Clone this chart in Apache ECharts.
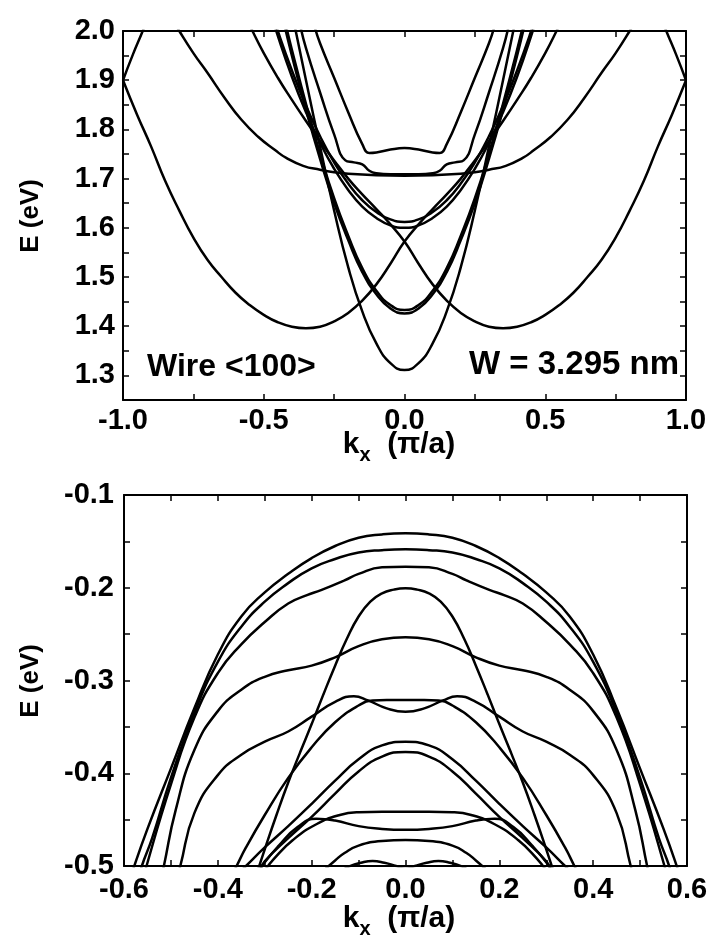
<!DOCTYPE html>
<html>
<head>
<meta charset="utf-8">
<script src="https://cdn.jsdelivr.net/npm/echarts@6/dist/echarts.min.js"></script>
<style>
  html, body { margin: 0; padding: 0; background: #fff; }
  #chart { width: 716px; height: 949px; }
</style>
</head>
<body>
<div id="chart"></div>
<script>
// ---- Tick labels ----
const cbKTicks = [-1.0, -0.5, 0.0, 0.5, 1.0];
const cbETicks = [1.3, 1.4, 1.5, 1.6, 1.7, 1.8, 1.9, 2.0];
const vbKTicks = [-0.6, -0.4, -0.2, 0.0, 0.2, 0.4, 0.6];
const vbETicks = [-0.5, -0.4, -0.3, -0.2, -0.1];

// ---- Conduction bands, <100> wire, W = 3.295 nm : [k (pi/a), E (eV)] ----
// Zone-centre bands, listed for k >= 0 (mirrored to k < 0)
const cGamma1  = [[0,1.311],[0.05,1.325],[0.1,1.365],[0.15,1.43],[0.2,1.52],[0.25,1.635],[0.3,1.765],[0.35,1.9],[0.39,2.01]];
const cGamma2a = [[0,1.426],[0.05,1.436],[0.1,1.465],[0.15,1.51],[0.2,1.575],[0.25,1.65],[0.3,1.74],[0.35,1.84],[0.4,1.95],[0.43,2.02]];
const cGamma2b = [[0,1.433],[0.05,1.443],[0.1,1.472],[0.15,1.518],[0.2,1.584],[0.25,1.66],[0.3,1.751],[0.35,1.852],[0.4,1.962],[0.425,2.02]];
const cGamma3a = [[0,1.600],[0.05,1.605],[0.1,1.62],[0.15,1.643],[0.2,1.677],[0.25,1.72],[0.3,1.773],[0.35,1.835],[0.4,1.907],[0.45,1.99],[0.465,2.02]];
const cGamma3b = [[0,1.612],[0.05,1.617],[0.1,1.632],[0.15,1.656],[0.2,1.69],[0.25,1.733],[0.3,1.786],[0.35,1.848],[0.4,1.92],[0.45,2.0],[0.46,2.02]];
const cGamma4  = [[0,1.709],[0.05,1.709],[0.1,1.711],[0.125,1.716],[0.15,1.729],[0.18,1.733],[0.21,1.737],[0.25,1.79],[0.3,1.875],[0.35,1.965],[0.37,2.01]];
const cGamma5  = [[0,1.762],[0.05,1.759],[0.1,1.753],[0.125,1.752],[0.15,1.77],[0.2,1.835],[0.25,1.905],[0.3,1.975],[0.32,2.01]];
const cWBand   = [[0,1.706],[0.1,1.707],[0.2,1.71],[0.25,1.713],[0.3,1.718],[0.36,1.726],[0.42,1.742],[0.46,1.758],[0.52,1.785],[0.58,1.82],[0.64,1.865],[0.7,1.915],[0.75,1.955],[0.8,2.0],[0.82,2.02]];
// Off-centre valley band (minimum near k = -0.35); its partner is the mirror image
const cValley  = [[-1,1.9],[-0.95,1.83],[-0.9,1.765],[-0.85,1.695],[-0.8,1.635],[-0.75,1.58],[-0.7,1.535],[-0.65,1.5],[-0.6,1.468],[-0.55,1.443],[-0.5,1.423],[-0.45,1.408],[-0.4,1.399],[-0.35,1.396],[-0.3,1.399],[-0.25,1.41],[-0.2,1.427],[-0.15,1.452],[-0.1,1.485],[-0.05,1.527],[0,1.572],[0.05,1.607],[0.1,1.638],[0.15,1.668],[0.2,1.7],[0.25,1.737],[0.3,1.776],[0.35,1.817],[0.4,1.86],[0.45,1.905],[0.5,1.955],[0.54,2.0],[0.56,2.025]];
// Partner valley band re-entering at the zone edge
const cEdge    = [[-1,1.9],[-0.965,1.952],[-0.93,2.0],[-0.91,2.03]];

// ---- Valence bands : [k (pi/a), E (eV)], k >= 0 (mirrored to k < 0) ----
const vBand1  = [[0,-0.1413],[0.05,-0.1425],[0.1,-0.146],[0.15,-0.155],[0.2,-0.168],[0.25,-0.185],[0.3,-0.205],[0.35,-0.231],[0.4,-0.272],[0.45,-0.33],[0.5,-0.395],[0.55,-0.46],[0.578,-0.5],[0.6,-0.535]];
const vBand2  = [[0,-0.1586],[0.05,-0.1595],[0.1,-0.162],[0.15,-0.169],[0.2,-0.179],[0.25,-0.195],[0.3,-0.215],[0.35,-0.242],[0.4,-0.28],[0.45,-0.335],[0.5,-0.405],[0.54,-0.47],[0.562,-0.5],[0.585,-0.54]];
const vBand3  = [[0,-0.1773],[0.05,-0.178],[0.1,-0.185],[0.13,-0.192],[0.18,-0.2025],[0.21,-0.208],[0.25,-0.217],[0.3,-0.237],[0.35,-0.261],[0.4,-0.292],[0.45,-0.34],[0.5,-0.412],[0.552,-0.5],[0.57,-0.535]];
const vBand4  = [[0,-0.2006],[0.025,-0.202],[0.05,-0.206],[0.075,-0.215],[0.1,-0.231],[0.125,-0.255],[0.15,-0.284],[0.175,-0.315],[0.2,-0.347],[0.225,-0.378],[0.25,-0.41],[0.275,-0.445],[0.3,-0.482],[0.315,-0.505]];
const vBand5  = [[0,-0.2534],[0.05,-0.2555],[0.1,-0.263],[0.15,-0.275],[0.2,-0.284],[0.25,-0.289],[0.3,-0.296],[0.35,-0.31],[0.4,-0.333],[0.45,-0.375],[0.49,-0.44],[0.515,-0.5],[0.53,-0.535]];
const vBand6  = [[0,-0.3336],[0.04,-0.33],[0.08,-0.3215],[0.11,-0.317],[0.15,-0.323],[0.2,-0.339],[0.25,-0.355],[0.3,-0.366],[0.35,-0.38],[0.4,-0.402],[0.45,-0.443],[0.48,-0.5],[0.49,-0.52]];
const vBand7  = [[0,-0.321],[0.04,-0.321],[0.07,-0.3215],[0.1,-0.327],[0.15,-0.345],[0.2,-0.372],[0.25,-0.405],[0.3,-0.445],[0.34,-0.48],[0.36,-0.5],[0.37,-0.51]];
const vBand8  = [[0,-0.366],[0.05,-0.37],[0.1,-0.385],[0.15,-0.408],[0.2,-0.433],[0.25,-0.457],[0.3,-0.48],[0.34,-0.5],[0.36,-0.51]];
const vBand9  = [[0,-0.377],[0.05,-0.382],[0.1,-0.398],[0.15,-0.422],[0.2,-0.447],[0.25,-0.47],[0.3,-0.495],[0.31,-0.505]];
const vBand10 = [[0,-0.4415],[0.05,-0.4415],[0.1,-0.442],[0.14,-0.445],[0.19,-0.455],[0.24,-0.472],[0.28,-0.492],[0.3,-0.505]];
const vBand11 = [[0,-0.461],[0.05,-0.46],[0.1,-0.457],[0.15,-0.451],[0.19,-0.449],[0.23,-0.458],[0.27,-0.478],[0.3,-0.496],[0.31,-0.505]];
const vBand12 = [[0,-0.472],[0.05,-0.473],[0.1,-0.478],[0.13,-0.486],[0.15,-0.494],[0.17,-0.503]];
const vBand13 = [[0,-0.503],[0.02,-0.5],[0.045,-0.4965],[0.07,-0.4946],[0.095,-0.4965],[0.12,-0.5005],[0.135,-0.505]];

// ---- helpers ----
// extend a k >= 0 branch to the symmetric full branch
function mirror(half) {
  const left = half.slice(1).map(([k, e]) => [-k, e]).reverse();
  return left.concat(half);
}
// reflect a whole branch k -> -k
function flip(pts) {
  return pts.map(([k, e]) => [-k, e]).reverse();
}

const FONT = '"Liberation Sans", Arial, sans-serif';
const fmt = v => (Math.abs(v) < 1e-9 ? 0 : v).toFixed(1);

function band(pts, panel) {
  return {
    type: 'line', xAxisIndex: panel * 2, yAxisIndex: panel * 2,
    data: pts, showSymbol: false, smooth: 0.5,
    clip: true, silent: true,
    lineStyle: { color: '#000', width: 2.5 }
  };
}

function axis(gi, min, max, interval, pos, ticks, margin) {
  return {
    gridIndex: gi, type: 'value', min, max, interval, position: pos,
    axisLine: { onZero: false, lineStyle: { color: '#000', width: 2 } },
    axisTick: { inside: true, length: 6, lineStyle: { color: '#000', width: 1.5 } },
    axisLabel: ticks ? {
      customValues: ticks, formatter: fmt, margin,
      color: '#000', fontFamily: FONT, fontWeight: 'bold', fontSize: 29
    } : { show: false },
    splitLine: { show: false }
  };
}

const series = [];
[cGamma1, cGamma2a, cGamma2b, cGamma3a, cGamma3b, cGamma4, cGamma5, cWBand]
  .forEach(h => series.push(band(mirror(h), 0)));
series.push(band(cValley, 0), band(flip(cValley), 0));
series.push(band(cEdge, 0), band(flip(cEdge), 0));
[vBand1, vBand2, vBand3, vBand4, vBand5, vBand6, vBand7, vBand8, vBand9, vBand10, vBand11, vBand12, vBand13]
  .forEach(h => series.push(band(mirror(h), 1)));

function kLabel(y) {
  return {
    type: 'text', x: 399, y,
    style: {
      text: '{k|k}{s|x}{k|  (π/a)}',
      align: 'center', verticalAlign: 'middle',
      rich: {
        k: { fontFamily: FONT, fontWeight: 'bold', fontSize: 30, lineHeight: 40, fill: '#000' },
        s: { fontFamily: FONT, fontWeight: 'bold', fontSize: 20, lineHeight: 20, verticalAlign: 'bottom', fill: '#000' }
      }
    }
  };
}
function eLabel(y) {
  return {
    type: 'text', x: 31, y, rotation: Math.PI / 2,
    style: {
      text: 'E (eV)', align: 'center', verticalAlign: 'middle',
      font: 'bold 26px ' + FONT, fill: '#000'
    }
  };
}

const chart = echarts.init(document.getElementById('chart'), null, { renderer: 'canvas' });
chart.setOption({
  animation: false,
  backgroundColor: '#fff',
  grid: [
    { left: 123, top: 31, width: 563, height: 369 },
    { left: 124, top: 495, width: 563, height: 371 }
  ],
  xAxis: [
    axis(0, -1, 1, 0.25, 'bottom', cbKTicks, 6),
    axis(0, -1, 1, 0.25, 'top', null),
    axis(1, -0.6, 0.6, 0.1, 'bottom', vbKTicks, 9),
    axis(1, -0.6, 0.6, 0.1, 'top', null)
  ],
  yAxis: [
    axis(0, 1.25, 2.0, 0.05, 'left', cbETicks, 8),
    axis(0, 1.25, 2.0, 0.05, 'right', null),
    axis(1, -0.5, -0.1, 0.05, 'left', vbETicks, 10),
    axis(1, -0.5, -0.1, 0.05, 'right', null)
  ],
  series,
  graphic: [
    { type: 'text', x: 147, y: 367, style: { text: 'Wire <100>', align: 'left', verticalAlign: 'middle', font: 'bold 32px ' + FONT, fill: '#000' } },
    { type: 'text', x: 679, y: 365, style: { text: 'W = 3.295 nm', align: 'right', verticalAlign: 'middle', font: 'bold 33px ' + FONT, fill: '#000' } },
    eLabel(216),
    eLabel(681),
    kLabel(445),
    kLabel(919)
  ]
});
</script>
</body>
</html>
